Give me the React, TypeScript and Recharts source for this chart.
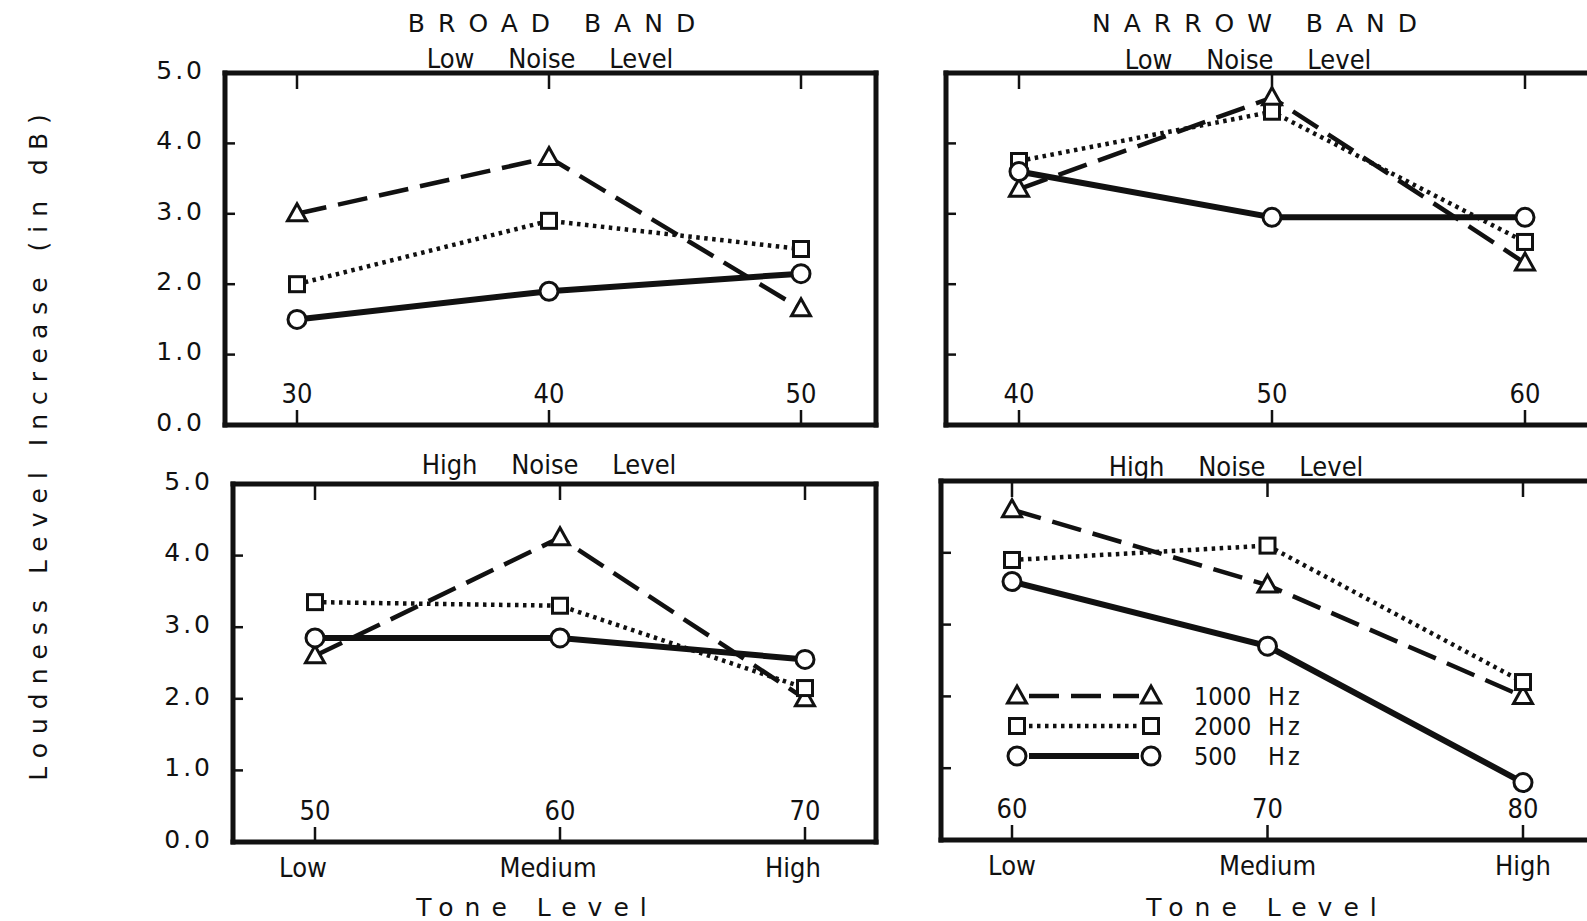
import React from 'react';
import { LineChart, Line, XAxis, YAxis, Legend } from 'recharts';

const toneLevels = ['Low', 'Medium', 'High'];
const yTicks = [0, 1, 2, 3, 4, 5];
const seriesNames = ['1000 Hz', '2000 Hz', '500 Hz'];

// broad band, low noise level
const broadLowDb = [30, 40, 50];
const broadLow1000 = [3.0, 3.8, 1.65];
const broadLow2000 = [2.0, 2.9, 2.5];
const broadLow500 = [1.5, 1.9, 2.15];

// narrow band, low noise level
const narrowLowDb = [40, 50, 60];
const narrowLow1000 = [3.35, 4.65, 2.3];
const narrowLow2000 = [3.75, 4.45, 2.6];
const narrowLow500 = [3.6, 2.95, 2.95];

// broad band, high noise level
const broadHighDb = [50, 60, 70];
const broadHigh1000 = [2.6, 4.25, 2.0];
const broadHigh2000 = [3.35, 3.3, 2.15];
const broadHigh500 = [2.85, 2.85, 2.55];

// narrow band, high noise level
const narrowHighDb = [60, 70, 80];
const narrowHigh1000 = [4.6, 3.55, 2.0];
const narrowHigh2000 = [3.9, 4.1, 2.2];
const narrowHigh500 = [3.6, 2.7, 0.8];

const INK = '#111';
const CONDENSED = "'DejaVu Sans Condensed', 'DejaVu Sans', sans-serif";
const WIDE = "'DejaVu Sans', sans-serif";

const series = [
  { key: 'hz1000', shape: 'triangle', dash: '30 12', width: 4.5 },
  { key: 'hz2000', shape: 'square', dash: '3.5 4.5', width: 4.5 },
  { key: 'hz500', shape: 'circle', dash: undefined, width: 6 },
];

const makeRows = (db: number[], a: number[], b: number[], c: number[]) =>
  db.map((d, i) => ({ db: d, hz1000: a[i], hz2000: b[i], hz500: c[i] }));

const marker = (shape: string, cx: number, cy: number, key?: string) => {
  if (cx == null || cy == null) return <g key={key} />;
  if (shape === 'triangle') {
    return (
      <path key={key} d={`M${cx},${cy - 10} L${cx + 9.5},${cy + 7} L${cx - 9.5},${cy + 7} Z`}
        fill="#fff" stroke={INK} strokeWidth={3} strokeLinejoin="miter" />
    );
  }
  if (shape === 'square') {
    return <rect key={key} x={cx - 7.5} y={cy - 7.5} width={15} height={15} fill="#fff" stroke={INK} strokeWidth={3} />;
  }
  return <circle key={key} cx={cx} cy={cy} r={9} fill="#fff" stroke={INK} strokeWidth={3} />;
};

const BottomTick = ({ x, y, payload, index, tone, toneDx }: any) => {
  const i = payload?.index ?? index;
  return (
    <g>
      <line x1={x} x2={x} y1={y} y2={y - 15} stroke={INK} strokeWidth={2.5} />
      <text x={x} y={y - 22} textAnchor="middle" fontFamily={CONDENSED} fontSize={27} fill={INK}>
        {payload.value}
      </text>
      {tone && (
        <text x={x + toneDx} y={y + 35} textAnchor="middle" fontFamily={CONDENSED} fontSize={27} fill={INK}>
          {toneLevels[i]}
        </text>
      )}
    </g>
  );
};

const TopTick = ({ x, y }: any) => <line x1={x} x2={x} y1={y} y2={y + 16} stroke={INK} strokeWidth={2.5} />;

const LeftTick = ({ x, y, payload, labels }: any) => {
  const v = payload.value;
  return (
    <g>
      {v > 0 && v < 5 && <line x1={x} x2={x + 10} y1={y} y2={y} stroke={INK} strokeWidth={2.5} />}
      {labels && (
        <text x={x - 20} y={y - 3} dy="0.35em" textAnchor="end" fontFamily={WIDE} fontSize={25} letterSpacing={3} fill={INK}>
          {v.toFixed(1)}
        </text>
      )}
    </g>
  );
};

const RightTick = ({ x, y, payload }: any) =>
  payload.value > 0 && payload.value < 5 ? (
    <line x1={x} x2={x - 12} y1={y} y2={y} stroke={INK} strokeWidth={2.5} />
  ) : (
    <g />
  );

const LegendBox = ({ payload }: any) => (
  <svg width={340} height={96}>
    {(payload || []).map((e: any, i: number) => {
      const s = series.find((q) => q.key === e.dataKey) ?? series[i];
      const y = 16 + i * 30;
      const [num, unit] = String(e.value).split(' ');
      return (
        <g key={s.key}>
          <line x1={29} x2={139} y1={y} y2={y} stroke={INK} strokeWidth={s.width} strokeDasharray={s.dash} />
          {marker(s.shape, 17, y)}
          {marker(s.shape, 151, y)}
          <text x={194} y={y} dy="0.35em" fontFamily={CONDENSED} fontSize={25} fill={INK}>{num}</text>
          <text x={268} y={y} dy="0.35em" fontFamily={CONDENSED} fontSize={25} letterSpacing={3} fill={INK}>{unit}</text>
        </g>
      );
    })}
  </svg>
);

// outer room around each frame; every axis takes 1px of it
const ROOM = { top: 24, right: 24, bottom: 56, left: 110 };
const M = { top: ROOM.top - 1, right: ROOM.right - 1, bottom: ROOM.bottom - 1, left: ROOM.left - 1 };

type Frame = { x: number; y: number; w: number; h: number };
type PanelProps = {
  rows: any[];
  frame: Frame;
  pad: { left: number; right: number };
  yLabels?: boolean;
  tone?: boolean;
  toneDx?: number;
  legendAt?: { x: number; y: number };
};

const Panel = ({ rows, frame, pad, yLabels, tone, toneDx = 0, legendAt }: PanelProps) => {
  const left = frame.x - ROOM.left;
  const top = frame.y - ROOM.top;
  const frameLine = { stroke: INK, strokeWidth: 5, strokeLinecap: 'square' as const };
  return (
    <div style={{ position: 'absolute', left, top }}>
      <LineChart width={frame.w + ROOM.left + ROOM.right} height={frame.h + ROOM.top + ROOM.bottom} data={rows} margin={M}>
        <XAxis xAxisId="bottom" dataKey="db" height={1} padding={pad} interval={0}
          tickLine={false} tickSize={0} tickMargin={0} axisLine={frameLine}
          tick={(p: any) => <BottomTick {...p} tone={tone} toneDx={toneDx} />} />
        <XAxis xAxisId="top" dataKey="db" orientation="top" height={1} padding={pad} interval={0}
          tickLine={false} tickSize={0} tickMargin={0} axisLine={frameLine} tick={(p: any) => <TopTick {...p} />} />
        <YAxis yAxisId="left" domain={[0, 5]} ticks={yTicks} width={1} interval={0}
          tickLine={false} tickSize={0} tickMargin={0} axisLine={frameLine}
          tick={(p: any) => <LeftTick {...p} labels={yLabels} />} />
        <YAxis yAxisId="right" orientation="right" domain={[0, 5]} ticks={yTicks} width={1} interval={0}
          tickLine={false} tickSize={0} tickMargin={0} axisLine={frameLine} tick={(p: any) => <RightTick {...p} />} />
        {series.map((s, si) => (
          <Line key={s.key} xAxisId="bottom" yAxisId="left" dataKey={s.key} name={seriesNames[si]}
            stroke={INK} strokeWidth={s.width} strokeDasharray={s.dash} strokeLinecap="butt"
            dot={(p: any) => marker(s.shape, p.cx, p.cy, `${s.key}-${p.index}`)}
            activeDot={false} isAnimationActive={false} />
        ))}
        {legendAt && (
          <Legend layout="horizontal" verticalAlign="middle" align="center" content={LegendBox}
            wrapperStyle={{ position: 'absolute', left: legendAt.x - left, top: legendAt.y - top, width: 340 }} />
        )}
      </LineChart>
    </div>
  );
};

const Caption = ({ x, y, style, children }: any) => (
  <div style={{
    position: 'absolute', left: x, top: y, transform: 'translate(-50%, -50%)', whiteSpace: 'nowrap',
    color: INK, lineHeight: 1, ...style,
  }}>
    {children}
  </div>
);

const titleStyle = { fontFamily: WIDE, fontSize: 25, letterSpacing: 13 };
const subStyle = { fontFamily: CONDENSED, fontSize: 27, wordSpacing: 26 };
const toneStyle = { fontFamily: WIDE, fontSize: 25, letterSpacing: 11 };

export default function App() {
  return (
    <div style={{ position: 'absolute', left: 0, top: 0, width: 1587, height: 921, overflow: 'hidden', background: '#fff' }}>
      <Caption x={38} y={443} style={{ fontFamily: WIDE, fontSize: 25, letterSpacing: 9, transform: 'translate(-50%, -50%) rotate(-90deg)' }}>
        Loudness Level Increase (in dB)
      </Caption>

      <Caption x={558} y={23} style={titleStyle}>BROAD BAND</Caption>
      <Caption x={1261} y={23} style={titleStyle}>NARROW BAND</Caption>

      <Caption x={550} y={58} style={subStyle}>Low Noise Level</Caption>
      <Caption x={1248} y={59} style={subStyle}>Low Noise Level</Caption>
      <Caption x={549} y={464} style={subStyle}>High Noise Level</Caption>
      <Caption x={1236} y={466} style={subStyle}>High Noise Level</Caption>

      <Panel rows={makeRows(broadLowDb, broadLow1000, broadLow2000, broadLow500)}
        frame={{ x: 225, y: 73, w: 651, h: 352 }} pad={{ left: 72, right: 75 }} yLabels />
      <Panel rows={makeRows(narrowLowDb, narrowLow1000, narrowLow2000, narrowLow500)}
        frame={{ x: 946, y: 73, w: 654, h: 352 }} pad={{ left: 73, right: 75 }} />
      <Panel rows={makeRows(broadHighDb, broadHigh1000, broadHigh2000, broadHigh500)}
        frame={{ x: 233, y: 484, w: 643, h: 358 }} pad={{ left: 82, right: 71 }} yLabels tone toneDx={-12} />
      <Panel rows={makeRows(narrowHighDb, narrowHigh1000, narrowHigh2000, narrowHigh500)}
        frame={{ x: 941, y: 481, w: 659, h: 359 }} pad={{ left: 71, right: 77 }} tone
        legendAt={{ x: 1000, y: 680 }} />

      <Caption x={537} y={907} style={toneStyle}>Tone Level</Caption>
      <Caption x={1267} y={907} style={toneStyle}>Tone Level</Caption>
    </div>
  );
}
